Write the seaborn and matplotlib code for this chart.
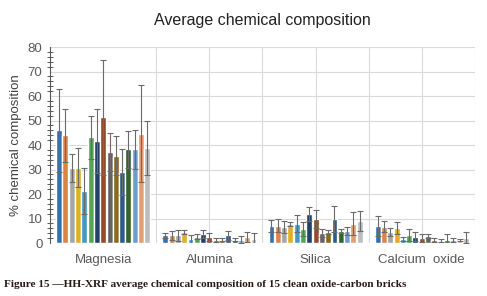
import numpy as np
import pandas as pd
import seaborn as sns
import matplotlib.pyplot as plt
from matplotlib.ticker import MultipleLocator

# --- data ---
oxides = ['Magnesia', 'Alumina', 'Silica', 'Calcium  oxide']
bricks = [f'Brick {i}' for i in range(1, 16)]

magnesia = [46.0, 43.9, 30.7, 30.7, 21.3, 43.1, 41.6, 51.4, 37.1, 35.7, 29.0, 38.3, 38.3, 44.7, 38.8]
magnesia_err = [17.0, 10.7, 5.7, 8.0, 9.5, 8.6, 13.0, 23.5, 7.7, 7.8, 9.2, 7.6, 8.0, 19.7, 11.0]

alumina = [3.1, 3.1, 3.1, 4.4, 1.6, 2.5, 3.7, 2.5, 1.4, 1.4, 3.1, 1.4, 1.4, 2.5, 1.5]
alumina_err = [1.1, 1.7, 2.3, 0.8, 1.8, 1.0, 1.7, 1.6, 0.8, 0.5, 1.7, 0.5, 1.3, 2.1, 2.6]

silica = [7.1, 7.1, 6.4, 7.8, 7.9, 5.7, 11.9, 9.8, 4.1, 4.5, 9.8, 4.9, 4.8, 7.8, 9.0]
silica_err = [2.4, 2.7, 2.5, 0.9, 3.5, 2.7, 2.8, 3.8, 1.5, 0.9, 5.5, 0.7, 1.6, 4.7, 4.2]

calcium = [7.1, 6.7, 4.4, 6.1, 1.6, 3.3, 2.6, 2.2, 3.0, 1.1, 1.0, 1.1, 1.1, 1.1, 2.2]
calcium_err = [4.1, 2.3, 1.7, 2.6, 0.7, 2.4, 1.8, 1.6, 0.8, 0.8, 0.5, 2.7, 0.8, 0.4, 2.3]

colors = ['#1F6FC3', '#F57E2E', '#A5A5A5', '#FFC000', '#2A9FD9', '#4CAF48',
          '#163F78', '#A4441A', '#636363', '#9A7207', '#1B5C98', '#2E6B24',
          '#5E9BDD', '#F59B62', '#BDBDBD']

means = [magnesia, alumina, silica, calcium]
errs = [magnesia_err, alumina_err, silica_err, calcium_err]

rows = []
for ox, m, e in zip(oxides, means, errs):
    for b, v, s in zip(bricks, m, e):
        rows.append({'oxide': ox, 'brick': b, 'mean': v, 'sd': s})
df = pd.DataFrame(rows)

sns.set_style('white')
plt.rcParams['font.family'] = ['Liberation Sans', 'DejaVu Sans']

fig = plt.figure(figsize=(4.87, 2.96), dpi=100)
ax = fig.add_axes([0.103, 0.179, 0.872, 0.662])

# grid (drawn first so bars sit on top)
for y in range(10, 81, 10):
    ax.axhline(y, color='#D9D9D9', lw=0.8, zorder=0)
for x in np.arange(0.5, 3.6, 0.5):
    ax.axvline(x, color='#D9D9D9', lw=0.8, zorder=0)

sns.barplot(data=df, x='oxide', y='mean', hue='brick', palette=colors,
            errorbar=None, width=0.89, gap=0.06, legend=False, ax=ax, zorder=2)

# error bars on every bar
for cont, b in zip(ax.containers, bricks):
    sub = df[df['brick'] == b]
    xs = [p.get_x() + p.get_width() / 2 for p in cont.patches]
    ax.errorbar(xs, sub['mean'].values, yerr=sub['sd'].values, fmt='none',
                ecolor='#6a6a6a', elinewidth=0.8, capsize=1.9, capthick=0.8, zorder=3)

ax.set_xlim(-0.5, 3.5)
ax.set_ylim(0, 80)
ax.yaxis.set_major_locator(MultipleLocator(10))
ax.yaxis.set_minor_locator(MultipleLocator(2))
ax.tick_params(axis='y', which='major', direction='inout', length=7, width=0.8,
               color='#595959', labelsize=9.5, labelcolor='#595959', pad=2)
ax.tick_params(axis='y', which='minor', direction='inout', length=5, width=0.7,
               color='#595959', left=True)
ax.tick_params(axis='x', length=0, labelsize=9.5, labelcolor='#595959', pad=8)

for s in ['top', 'right', 'bottom']:
    ax.spines[s].set_visible(False)
ax.spines['left'].set_color('#595959')
ax.spines['left'].set_linewidth(0.8)

ax.set_xlabel('')
ax.set_ylabel('% chemical composition', fontsize=9.5, color='#404040', labelpad=4)
ax.set_title('Average chemical composition', fontsize=11.5, color='#222222', pad=16)

fig.text(0.008, 0.03, 'Figure 15 \u2014HH-XRF average chemical composition of 15 clean oxide-carbon bricks',
         fontsize=8.1, fontweight='bold', color='#2a1a14',
         family=['Liberation Serif', 'DejaVu Serif'])

fig.savefig('out.png', dpi=100)
